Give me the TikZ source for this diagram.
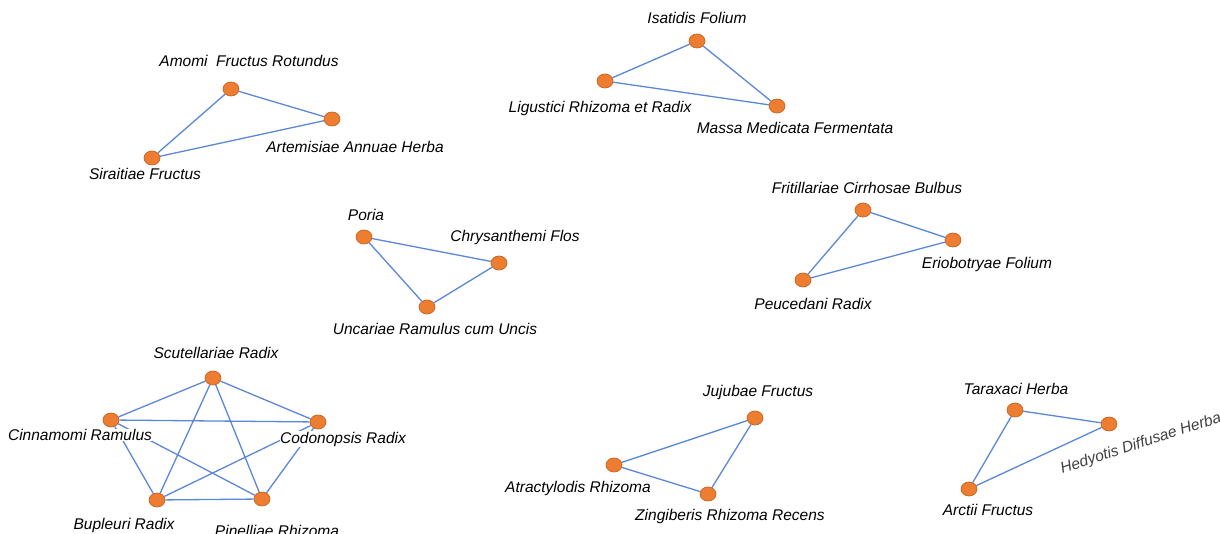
\documentclass[tikz,border=0pt]{standalone}
\usepackage{fontspec}
\setmainfont{Liberation Sans}
\usetikzlibrary{shapes.geometric}
\definecolor{dotfill}{HTML}{ED7D31}
\definecolor{dotdraw}{HTML}{C8621E}
\definecolor{edgeblue}{HTML}{5B87D8}
\begin{document}
\begin{tikzpicture}[x=1pt,y=-1pt,
  dot/.style={ellipse, fill=dotfill, draw=dotdraw, line width=0.7pt, minimum width=16pt, minimum height=14pt, inner sep=0pt},
  edge/.style={draw=edgeblue, line width=1.3pt},
  lab/.style={font=\fontsize{15.5}{18}\selectfont\itshape, text=black, inner sep=0.5pt},
  labw/.style={lab, fill=white}]
\useasboundingbox (0,0) rectangle (1220,534);
% group 1
\node[dot] (amo) at (231,89) {};
\node[dot] (art) at (332,119) {};
\node[dot] (sir) at (152,158) {};
\draw[edge] (amo) -- (art) (art) -- (sir) (sir) -- (amo);
\node[lab] (lamo) at (249,61) {Amomi\ \ Fructus Rotundus};
\node[lab] (lart) at (355,147) {Artemisiae Annuae Herba};
\node[lab] (lsir) at (145,174) {Siraitiae Fructus};
% group 2
\node[dot] (isa) at (697,41) {};
\node[dot] (lig) at (605,81) {};
\node[dot] (mas) at (777,106) {};
\draw[edge] (isa) -- (lig) (lig) -- (mas) (mas) -- (isa);
\node[lab] (lisa) at (697,18) {Isatidis Folium};
\node[lab] (llig) at (600,108) {Ligustici Rhizoma et Radix};
\node[lab] (lmas) at (795,128) {Massa Medicata Fermentata};
% group 3
\node[dot] (por) at (364,237) {};
\node[dot] (chr) at (499,263) {};
\node[dot] (unc) at (427,307) {};
\draw[edge] (por) -- (chr) (chr) -- (unc) (unc) -- (por);
\node[lab] (lpor) at (366,215) {Poria};
\node[lab] (lchr) at (515,237) {Chrysanthemi Flos};
\node[lab] (lunc) at (435,329) {Uncariae Ramulus cum Uncis};
% group 4
\node[dot] (fri) at (863,210) {};
\node[dot] (eri) at (953,240) {};
\node[dot] (peu) at (803,280) {};
\draw[edge] (fri) -- (eri) (eri) -- (peu) (peu) -- (fri);
\node[lab] (lfri) at (867,188) {Fritillariae Cirrhosae Bulbus};
\node[lab] (leri) at (987,264) {Eriobotryae Folium};
\node[lab] (lpeu) at (813,304) {Peucedani Radix};
% group 5
\node[dot] (scu) at (213,378) {};
\node[dot] (cin) at (111,420) {};
\node[dot] (cod) at (318,422) {};
\node[dot] (bup) at (157,500) {};
\node[dot] (pin) at (262,499) {};
\draw[edge] (scu) -- (cin) (scu) -- (cod) (scu) -- (bup) (scu) -- (pin)
  (cin) -- (cod) (cin) -- (bup) (cin) -- (pin)
  (cod) -- (bup) (cod) -- (pin) (bup) -- (pin);
\node[lab] (lscu) at (216,353) {Scutellariae Radix};
\node[labw] (lcin) at (80,435) {Cinnamomi Ramulus};
\node[labw] (lcod) at (343,439) {Codonopsis Radix};
\node[lab] (lbup) at (124,525) {Bupleuri Radix};
\node[lab] (lpin) at (277,531) {Pinelliae Rhizoma};
% group 6
\node[dot] (juj) at (755,418) {};
\node[dot] (atr) at (614,465) {};
\node[dot] (zin) at (708,494) {};
\draw[edge] (juj) -- (atr) (atr) -- (zin) (zin) -- (juj);
\node[lab] (ljuj) at (758,392) {Jujubae Fructus};
\node[lab] (latr) at (578,488) {Atractylodis Rhizoma};
\node[lab] (lzin) at (730,516) {Zingiberis Rhizoma Recens};
% group 7
\node[dot] (tar) at (1015,410) {};
\node[dot] (hed) at (1109,424) {};
\node[dot] (arc) at (969,489) {};
\draw[edge] (tar) -- (hed) (hed) -- (arc) (arc) -- (tar);
\node[lab] (ltar) at (1016,389) {Taraxaci Herba};
\node[lab, text=black!75, rotate=18] (lhed) at (1141,444) {Hedyotis Diffusae Herba};
\node[lab] (larc) at (988,510) {Arctii Fructus};
\end{tikzpicture}
\end{document}
